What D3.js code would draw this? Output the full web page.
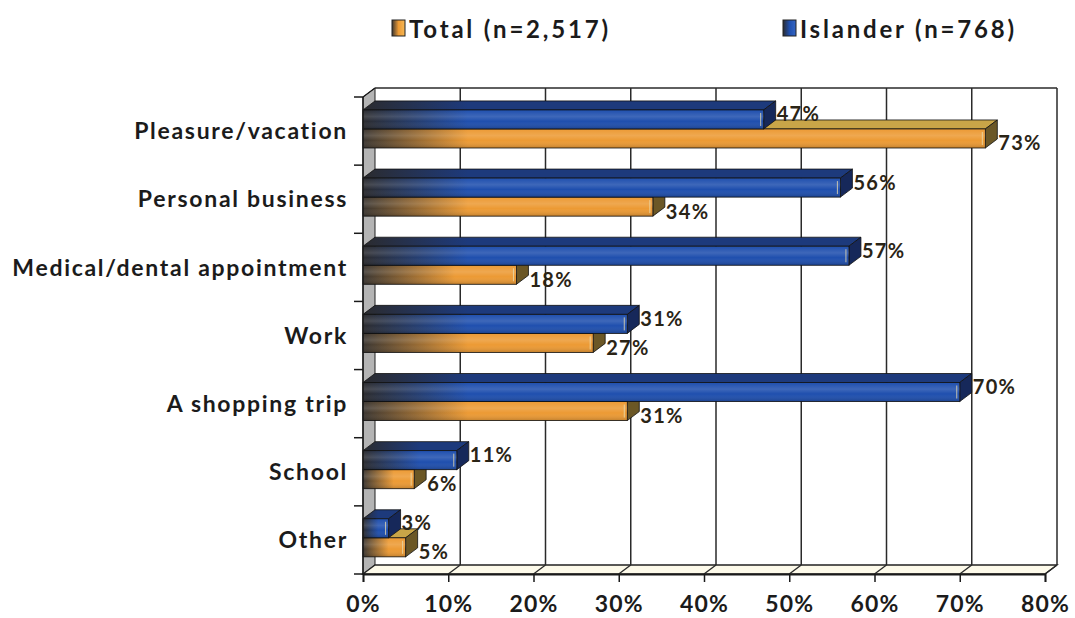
<!DOCTYPE html>
<html>
<head>
<meta charset="utf-8">
<script src="https://cdn.jsdelivr.net/npm/d3@7"></script>
<style>
  html, body { margin: 0; padding: 0; background: #fff; }
  svg { display: block; }
  text { font-family: "Lato", "Open Sans", sans-serif; font-weight: 700; fill: #1b1b1b; }
</style>
</head>
<body>
<svg id="chart" width="1075" height="618"></svg>
<script>
// Reasons for trips, percent of respondents
const categories = ["Pleasure/vacation", "Personal business", "Medical/dental appointment",
                    "Work", "A shopping trip", "School", "Other"];
const seriesNames = ["Islander", "Total"];
const legendLabels = ["Total (n=2,517)", "Islander (n=768)"];
const islanderValues = [47, 56, 57, 31, 70, 11, 3];
const totalValues    = [73, 34, 18, 27, 31, 6, 5];
const xTicks = [0, 10, 20, 30, 40, 50, 60, 70, 80];

const svg = d3.select("#chart");

// Front plane of the plot and the depth offset of the back wall
const pLeft = 363, pRight = 1045, pTop = 97, pBottom = 574;
const dx = 12, dy = -9;

const x = d3.scaleLinear().domain([0, 80]).range([pLeft, pRight]);
const y = d3.scaleBand().domain(categories).range([pTop, pBottom]);
const sub = d3.scaleBand().domain(seriesNames).range([0, y.bandwidth()])
  .paddingInner(0).paddingOuter(0.79).align(0.43);

const palette = {
  Islander: { front: "#1f4fae", hi: "#3566c4", topFace: "#1d3a7c", side: "#16285a", dark: "#2b2b2e" },
  Total:    { front: "#ec9a34", hi: "#f7b855", topFace: "#c9a548", side: "#6b5726", dark: "#3b3631" }
};

const defs = svg.append("defs");

// ---- walls and floor ----
const g = svg.append("g");

// back wall
g.append("rect")
  .attr("x", pLeft + dx).attr("y", pTop + dy)
  .attr("width", pRight - pLeft).attr("height", pBottom - pTop)
  .attr("fill", "#fff");

// left side wall
g.append("path")
  .attr("d", `M${pLeft},${pTop} L${pLeft + dx},${pTop + dy} L${pLeft + dx},${pBottom + dy} L${pLeft},${pBottom} Z`)
  .attr("fill", "#b4b4b4").attr("stroke", "#222").attr("stroke-width", 1);

// floor
g.append("path")
  .attr("d", `M${pLeft},${pBottom} L${pLeft + dx},${pBottom + dy} L${pRight + dx},${pBottom + dy} L${pRight},${pBottom} Z`)
  .attr("fill", "#fdfaea").attr("stroke", "#222").attr("stroke-width", 1.3);

// gridlines on back wall
g.selectAll(".grid").data(xTicks.slice(1)).join("line")
  .attr("class", "grid")
  .attr("x1", d => x(d) + dx).attr("x2", d => x(d) + dx)
  .attr("y1", pTop + dy).attr("y2", pBottom + dy)
  .attr("stroke", "#2a2a2a").attr("stroke-width", 1.5);

// gridlines across the floor
g.selectAll(".floorgrid").data(xTicks.slice(1)).join("line")
  .attr("class", "floorgrid")
  .attr("x1", d => x(d) + dx).attr("x2", d => x(d))
  .attr("y1", pBottom + dy).attr("y2", pBottom)
  .attr("stroke", "#2a2a2a").attr("stroke-width", 1.3);

// back wall top border
g.append("line")
  .attr("x1", pLeft + dx).attr("x2", pRight + dx)
  .attr("y1", pTop + dy).attr("y2", pTop + dy)
  .attr("stroke", "#2a2a2a").attr("stroke-width", 1.5);

// ---- bars ----
const rows = [];
categories.forEach((c, i) => {
  // lower bar first so the upper one covers its top face
  rows.push({ cat: c, series: "Total", value: totalValues[i] });
  rows.push({ cat: c, series: "Islander", value: islanderValues[i] });
});

const bars = svg.append("g");
const labels = svg.append("g");
rows.forEach((d, k) => {
  const p = palette[d.series];
  const x0 = x(0), x1 = x(d.value);
  const y0 = y(d.cat) + sub(d.series), y1 = y0 + sub.bandwidth();
  const w = x1 - x0;
  const ramp = Math.min(105, w * 0.6);

  const gid = "gh" + k;
  const gh = defs.append("linearGradient").attr("id", gid)
    .attr("gradientUnits", "userSpaceOnUse")
    .attr("x1", x0).attr("x2", x0 + ramp).attr("y1", 0).attr("y2", 0);
  gh.append("stop").attr("offset", 0).attr("stop-color", p.dark);
  gh.append("stop").attr("offset", 1).attr("stop-color", p.front);

  const gv = "gv" + k;
  const gvv = defs.append("linearGradient").attr("id", gv)
    .attr("x1", 0).attr("x2", 0).attr("y1", 0).attr("y2", 1);
  gvv.append("stop").attr("offset", 0).attr("stop-color", "#fff").attr("stop-opacity", 0.0);
  gvv.append("stop").attr("offset", 0.35).attr("stop-color", "#fff").attr("stop-opacity", 0.14);
  gvv.append("stop").attr("offset", 0.6).attr("stop-color", "#fff").attr("stop-opacity", 0.0);
  gvv.append("stop").attr("offset", 1).attr("stop-color", "#000").attr("stop-opacity", 0.18);

  const gt = "gt" + k;
  const gtt = defs.append("linearGradient").attr("id", gt)
    .attr("gradientUnits", "userSpaceOnUse")
    .attr("x1", x0).attr("x2", x0 + ramp).attr("y1", 0).attr("y2", 0);
  gtt.append("stop").attr("offset", 0).attr("stop-color", p.dark);
  gtt.append("stop").attr("offset", 1).attr("stop-color", p.topFace);

  const b = bars.append("g");
  // top face
  b.append("path")
    .attr("d", `M${x0},${y0} L${x0 + dx},${y0 + dy} L${x1 + dx},${y0 + dy} L${x1},${y0} Z`)
    .attr("fill", `url(#${gt})`).attr("stroke", "#111").attr("stroke-width", 0.8);
  // right side face
  b.append("path")
    .attr("d", `M${x1},${y0} L${x1 + dx},${y0 + dy} L${x1 + dx},${y1 + dy} L${x1},${y1} Z`)
    .attr("fill", p.side).attr("stroke", "#111").attr("stroke-width", 0.8);
  // front face
  b.append("rect")
    .attr("x", x0).attr("y", y0).attr("width", w).attr("height", y1 - y0)
    .attr("fill", `url(#${gid})`).attr("stroke", "#111").attr("stroke-width", 0.8);
  b.append("rect")
    .attr("x", x0).attr("y", y0).attr("width", w).attr("height", y1 - y0)
    .attr("fill", `url(#${gv})`);
  // small highlight near the end of the front face
  if (w > 12) {
    b.append("line")
      .attr("x1", x1 - 3).attr("x2", x1 - 3)
      .attr("y1", y0 + 3).attr("y2", y1 - 3)
      .attr("stroke", "#e9dcb0").attr("stroke-width", 1).attr("opacity", 0.8);
  }

  // value label beside the bar end
  const cy = (y0 + y1) / 2 + (d.series === "Islander" ? -6 : 4);
  labels.append("text")
    .attr("x", x1 + dx + 1).attr("y", cy)
    .attr("dominant-baseline", "central")
    .attr("font-size", 20)
    .attr("letter-spacing", 1.3)
    .style("fill", "#2a2416")
    .text(d.value + "%");
});

// ---- front axes ----
// left edge of side wall + ticks at category boundaries
svg.append("line")
  .attr("x1", pLeft).attr("x2", pLeft).attr("y1", pTop).attr("y2", pBottom)
  .attr("stroke", "#1a1a1a").attr("stroke-width", 1.5);
svg.append("line")
  .attr("x1", pLeft).attr("x2", pLeft + dx).attr("y1", pTop).attr("y2", pTop + dy)
  .attr("stroke", "#1a1a1a").attr("stroke-width", 1.2);
const boundaries = categories.map(c => y(c)).concat([pBottom]);
svg.selectAll(".ytick").data(boundaries).join("line")
  .attr("class", "ytick")
  .attr("x1", pLeft - 9).attr("x2", pLeft)
  .attr("y1", d => d).attr("y2", d => d)
  .attr("stroke", "#1a1a1a").attr("stroke-width", 1.5);

// category labels
const yAxis = svg.append("g")
  .attr("transform", `translate(${pLeft},0)`)
  .call(d3.axisLeft(y).tickSize(0).tickPadding(15));
yAxis.select(".domain").remove();
yAxis.selectAll("text")
  .attr("font-size", 23)
  .attr("letter-spacing", 1.7)
  .attr("font-family", "Lato, sans-serif")
  .attr("font-weight", 700)
  .attr("dy", "0.36em")
  .style("fill", "#1b1b1b");

// bottom axis
const xAxis = svg.append("g")
  .attr("transform", `translate(0,${pBottom})`)
  .call(d3.axisBottom(x).tickValues(xTicks).tickSize(8).tickPadding(14)
    .tickFormat(d => d + "%"));
xAxis.select(".domain").attr("stroke", "#1a1a1a").attr("stroke-width", 1.8);
xAxis.selectAll(".tick line").attr("stroke", "#1a1a1a").attr("stroke-width", 1.5);
xAxis.selectAll("text")
  .attr("font-size", 23)
  .attr("letter-spacing", 1.2)
  .attr("font-family", "Lato, sans-serif")
  .attr("font-weight", 700)
  .style("fill", "#1b1b1b");

// ---- legend ----
const legendItems = [
  { label: legendLabels[0], series: "Total", x: 392 },
  { label: legendLabels[1], series: "Islander", x: 783 }
];
legendItems.forEach((it, k) => {
  const p = palette[it.series];
  const lg = defs.append("linearGradient").attr("id", "lg" + k)
    .attr("x1", 0).attr("x2", 1).attr("y1", 0).attr("y2", 0);
  lg.append("stop").attr("offset", 0).attr("stop-color", p.dark);
  lg.append("stop").attr("offset", 0.5).attr("stop-color", p.front);
  lg.append("stop").attr("offset", 1).attr("stop-color", p.hi);
  svg.append("rect")
    .attr("x", it.x).attr("y", 20).attr("width", 13).attr("height", 16)
    .attr("fill", `url(#lg${k})`).attr("stroke", "#222").attr("stroke-width", 1);
  svg.append("text")
    .attr("x", it.x + 17).attr("y", 28)
    .attr("dominant-baseline", "central")
    .attr("font-size", 24)
    .attr("letter-spacing", 2.8)
    .text(it.label);
});
</script>
</body>
</html>
